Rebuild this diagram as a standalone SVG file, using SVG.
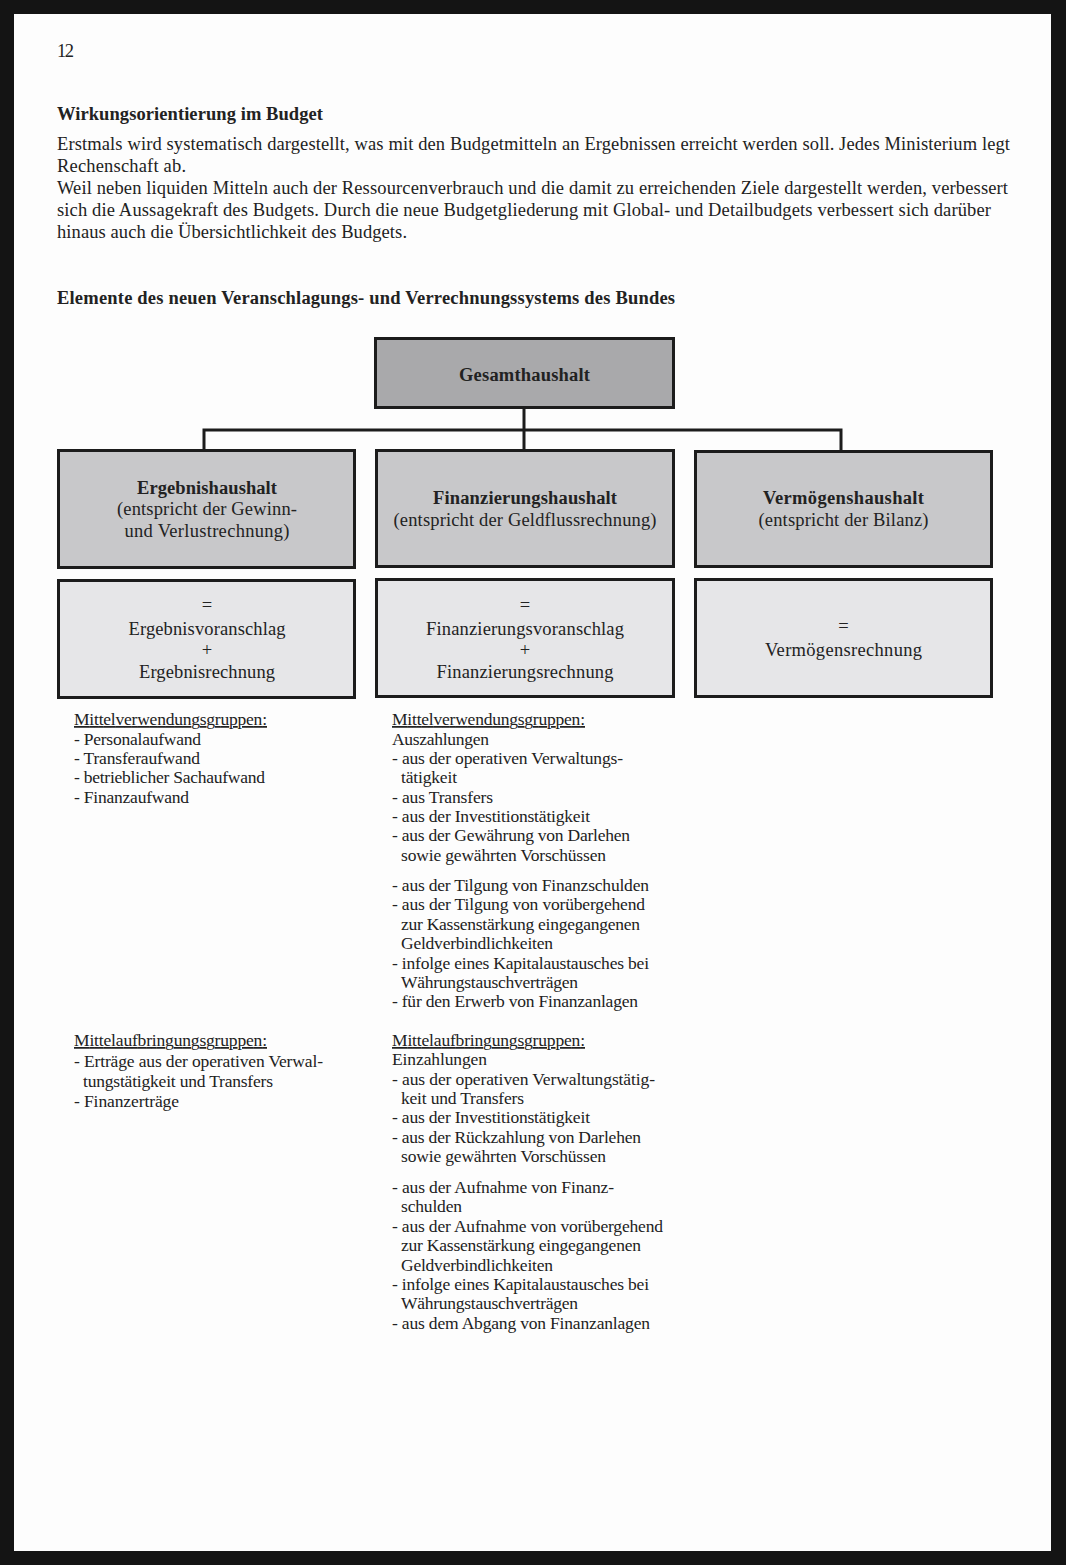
<svg xmlns="http://www.w3.org/2000/svg" width="1066" height="1565" viewBox="0 0 1066 1565">
<style>
text{font-family:"Liberation Serif","Times New Roman",serif;fill:#222;}
.b{font-weight:bold;}
.body{font-size:18.5px;}
.box{stroke:#1c1c1c;stroke-width:3;}
.g1{fill:#a9a9ab;}
.g2{fill:#c8c8ca;}
.g3{fill:#e6e6e8;}
.bt{font-size:18.5px;text-anchor:middle;}
.li{font-size:17.5px;}
.u{text-decoration:underline;}
.conn{stroke:#1c1c1c;stroke-width:3;fill:none;}
</style>
<rect x="0" y="0" width="1066" height="1565" fill="#141414"/>
<rect x="14" y="14" width="1037" height="1537" fill="#fdfdfd"/>

<text x="57" y="57" class="body" textLength="17">12</text>
<text x="57" y="120" class="body b" textLength="266">Wirkungsorientierung im Budget</text>
<text x="57" y="150" class="body" textLength="953">Erstmals wird systematisch dargestellt, was mit den Budgetmitteln an Ergebnissen erreicht werden soll. Jedes Ministerium legt</text>
<text x="57" y="172" class="body" textLength="129">Rechenschaft ab.</text>
<text x="57" y="194" class="body" textLength="951">Weil neben liquiden Mitteln auch der Ressourcenverbrauch und die damit zu erreichenden Ziele dargestellt werden, verbessert</text>
<text x="57" y="216" class="body" textLength="934">sich die Aussagekraft des Budgets. Durch die neue Budgetgliederung mit Global- und Detailbudgets verbessert sich darüber</text>
<text x="57" y="238" class="body" textLength="350">hinaus auch die Übersichtlichkeit des Budgets.</text>
<text x="57" y="304" class="body b" textLength="618">Elemente des neuen Veranschlagungs- und Verrechnungssystems des Bundes</text>

<g id="connectors">
<path class="conn" d="M524,408 V450 M204,430 H841 M204,428.5 V450 M841,428.5 V450"/>
</g>

<g id="gesamthaushalt">
<rect class="box g1" x="375.5" y="338.5" width="298" height="69"/>
<text x="524.5" y="381" class="bt b" textLength="131">Gesamthaushalt</text>
</g>

<g id="ergebnishaushalt">
<rect class="box g2" x="58.5" y="450.5" width="296" height="117"/>
<text x="207" y="494" class="bt b" textLength="140">Ergebnishaushalt</text>
<text x="207" y="515" class="bt" textLength="180">(entspricht der Gewinn-</text>
<text x="207" y="537" class="bt" textLength="165">und Verlustrechnung)</text>
</g>

<g id="finanzierungshaushalt">
<rect class="box g2" x="376.5" y="450.5" width="297" height="116"/>
<text x="525" y="504" class="bt b" textLength="184">Finanzierungshaushalt</text>
<text x="525" y="526" class="bt" textLength="263">(entspricht der Geldflussrechnung)</text>
</g>

<g id="vermoegenshaushalt">
<rect class="box g2" x="695.5" y="451.5" width="296" height="115"/>
<text x="843.5" y="504" class="bt b" textLength="161">Vermögenshaushalt</text>
<text x="843.5" y="526" class="bt" textLength="170">(entspricht der Bilanz)</text>
</g>

<g id="ergebnisrechnung">
<rect class="box g3" x="58.5" y="580.5" width="296" height="117"/>
<text x="207" y="611" class="bt">=</text>
<text x="207" y="635" class="bt" textLength="157">Ergebnisvoranschlag</text>
<text x="207" y="656" class="bt">+</text>
<text x="207" y="678" class="bt" textLength="136">Ergebnisrechnung</text>
</g>

<g id="finanzierungsrechnung">
<rect class="box g3" x="376.5" y="579.5" width="297" height="117"/>
<text x="525" y="611" class="bt">=</text>
<text x="525" y="635" class="bt" textLength="198">Finanzierungsvoranschlag</text>
<text x="525" y="656" class="bt">+</text>
<text x="525" y="678" class="bt" textLength="177">Finanzierungsrechnung</text>
</g>

<g id="vermoegensrechnung">
<rect class="box g3" x="695.5" y="579.5" width="296" height="117"/>
<text x="843.5" y="632" class="bt">=</text>
<text x="843.5" y="656" class="bt" textLength="157">Vermögensrechnung</text>
</g>

<g id="ergebnis-liste">
<text x="74" y="725" class="li u" textLength="193">Mittelverwendungsgruppen:</text>
<text x="74" y="745" class="li" textLength="127">- Personalaufwand</text>
<text x="74" y="764" class="li" textLength="126">- Transferaufwand</text>
<text x="74" y="783" class="li" textLength="191">- betrieblicher Sachaufwand</text>
<text x="74" y="803" class="li" textLength="115">- Finanzaufwand</text>
<text x="74" y="1046" class="li u" textLength="193">Mittelaufbringungsgruppen:</text>
<text x="74" y="1067" class="li" textLength="249">- Erträge aus der operativen Verwal-</text>
<text x="83" y="1087" class="li" textLength="190">tungstätigkeit und Transfers</text>
<text x="74" y="1107" class="li" textLength="105">- Finanzerträge</text>
</g>

<g id="finanzierung-liste">
<text x="392" y="725" class="li u" textLength="193">Mittelverwendungsgruppen:</text>
<text x="392" y="745" class="li" textLength="97">Auszahlungen</text>
<text x="392" y="764" class="li" textLength="231">- aus der operativen Verwaltungs-</text>
<text x="401" y="783" class="li" textLength="56">tätigkeit</text>
<text x="392" y="803" class="li" textLength="101">- aus Transfers</text>
<text x="392" y="822" class="li" textLength="198">- aus der Investitionstätigkeit</text>
<text x="392" y="841" class="li" textLength="238">- aus der Gewährung von Darlehen</text>
<text x="401" y="861" class="li" textLength="205">sowie gewährten Vorschüssen</text>
<text x="392" y="891" class="li" textLength="257">- aus der Tilgung von Finanzschulden</text>
<text x="392" y="910" class="li" textLength="253">- aus der Tilgung von vorübergehend</text>
<text x="401" y="930" class="li" textLength="239">zur Kassenstärkung eingegangenen</text>
<text x="401" y="949" class="li" textLength="152">Geldverbindlichkeiten</text>
<text x="392" y="969" class="li" textLength="257">- infolge eines Kapitalaustausches bei</text>
<text x="401" y="988" class="li" textLength="177">Währungstauschverträgen</text>
<text x="392" y="1007" class="li" textLength="246">- für den Erwerb von Finanzanlagen</text>
<text x="392" y="1046" class="li u" textLength="193">Mittelaufbringungsgruppen:</text>
<text x="392" y="1065" class="li" textLength="95">Einzahlungen</text>
<text x="392" y="1085" class="li" textLength="263">- aus der operativen Verwaltungstätig-</text>
<text x="401" y="1104" class="li" textLength="123">keit und Transfers</text>
<text x="392" y="1123" class="li" textLength="198">- aus der Investitionstätigkeit</text>
<text x="392" y="1143" class="li" textLength="249">- aus der Rückzahlung von Darlehen</text>
<text x="401" y="1162" class="li" textLength="205">sowie gewährten Vorschüssen</text>
<text x="392" y="1193" class="li" textLength="222">- aus der Aufnahme von Finanz-</text>
<text x="401" y="1212" class="li" textLength="61">schulden</text>
<text x="392" y="1232" class="li" textLength="271">- aus der Aufnahme von vorübergehend</text>
<text x="401" y="1251" class="li" textLength="240">zur Kassenstärkung eingegangenen</text>
<text x="401" y="1271" class="li" textLength="152">Geldverbindlichkeiten</text>
<text x="392" y="1290" class="li" textLength="257">- infolge eines Kapitalaustausches bei</text>
<text x="401" y="1309" class="li" textLength="177">Währungstauschverträgen</text>
<text x="392" y="1329" class="li" textLength="258">- aus dem Abgang von Finanzanlagen</text>
</g>
</svg>
